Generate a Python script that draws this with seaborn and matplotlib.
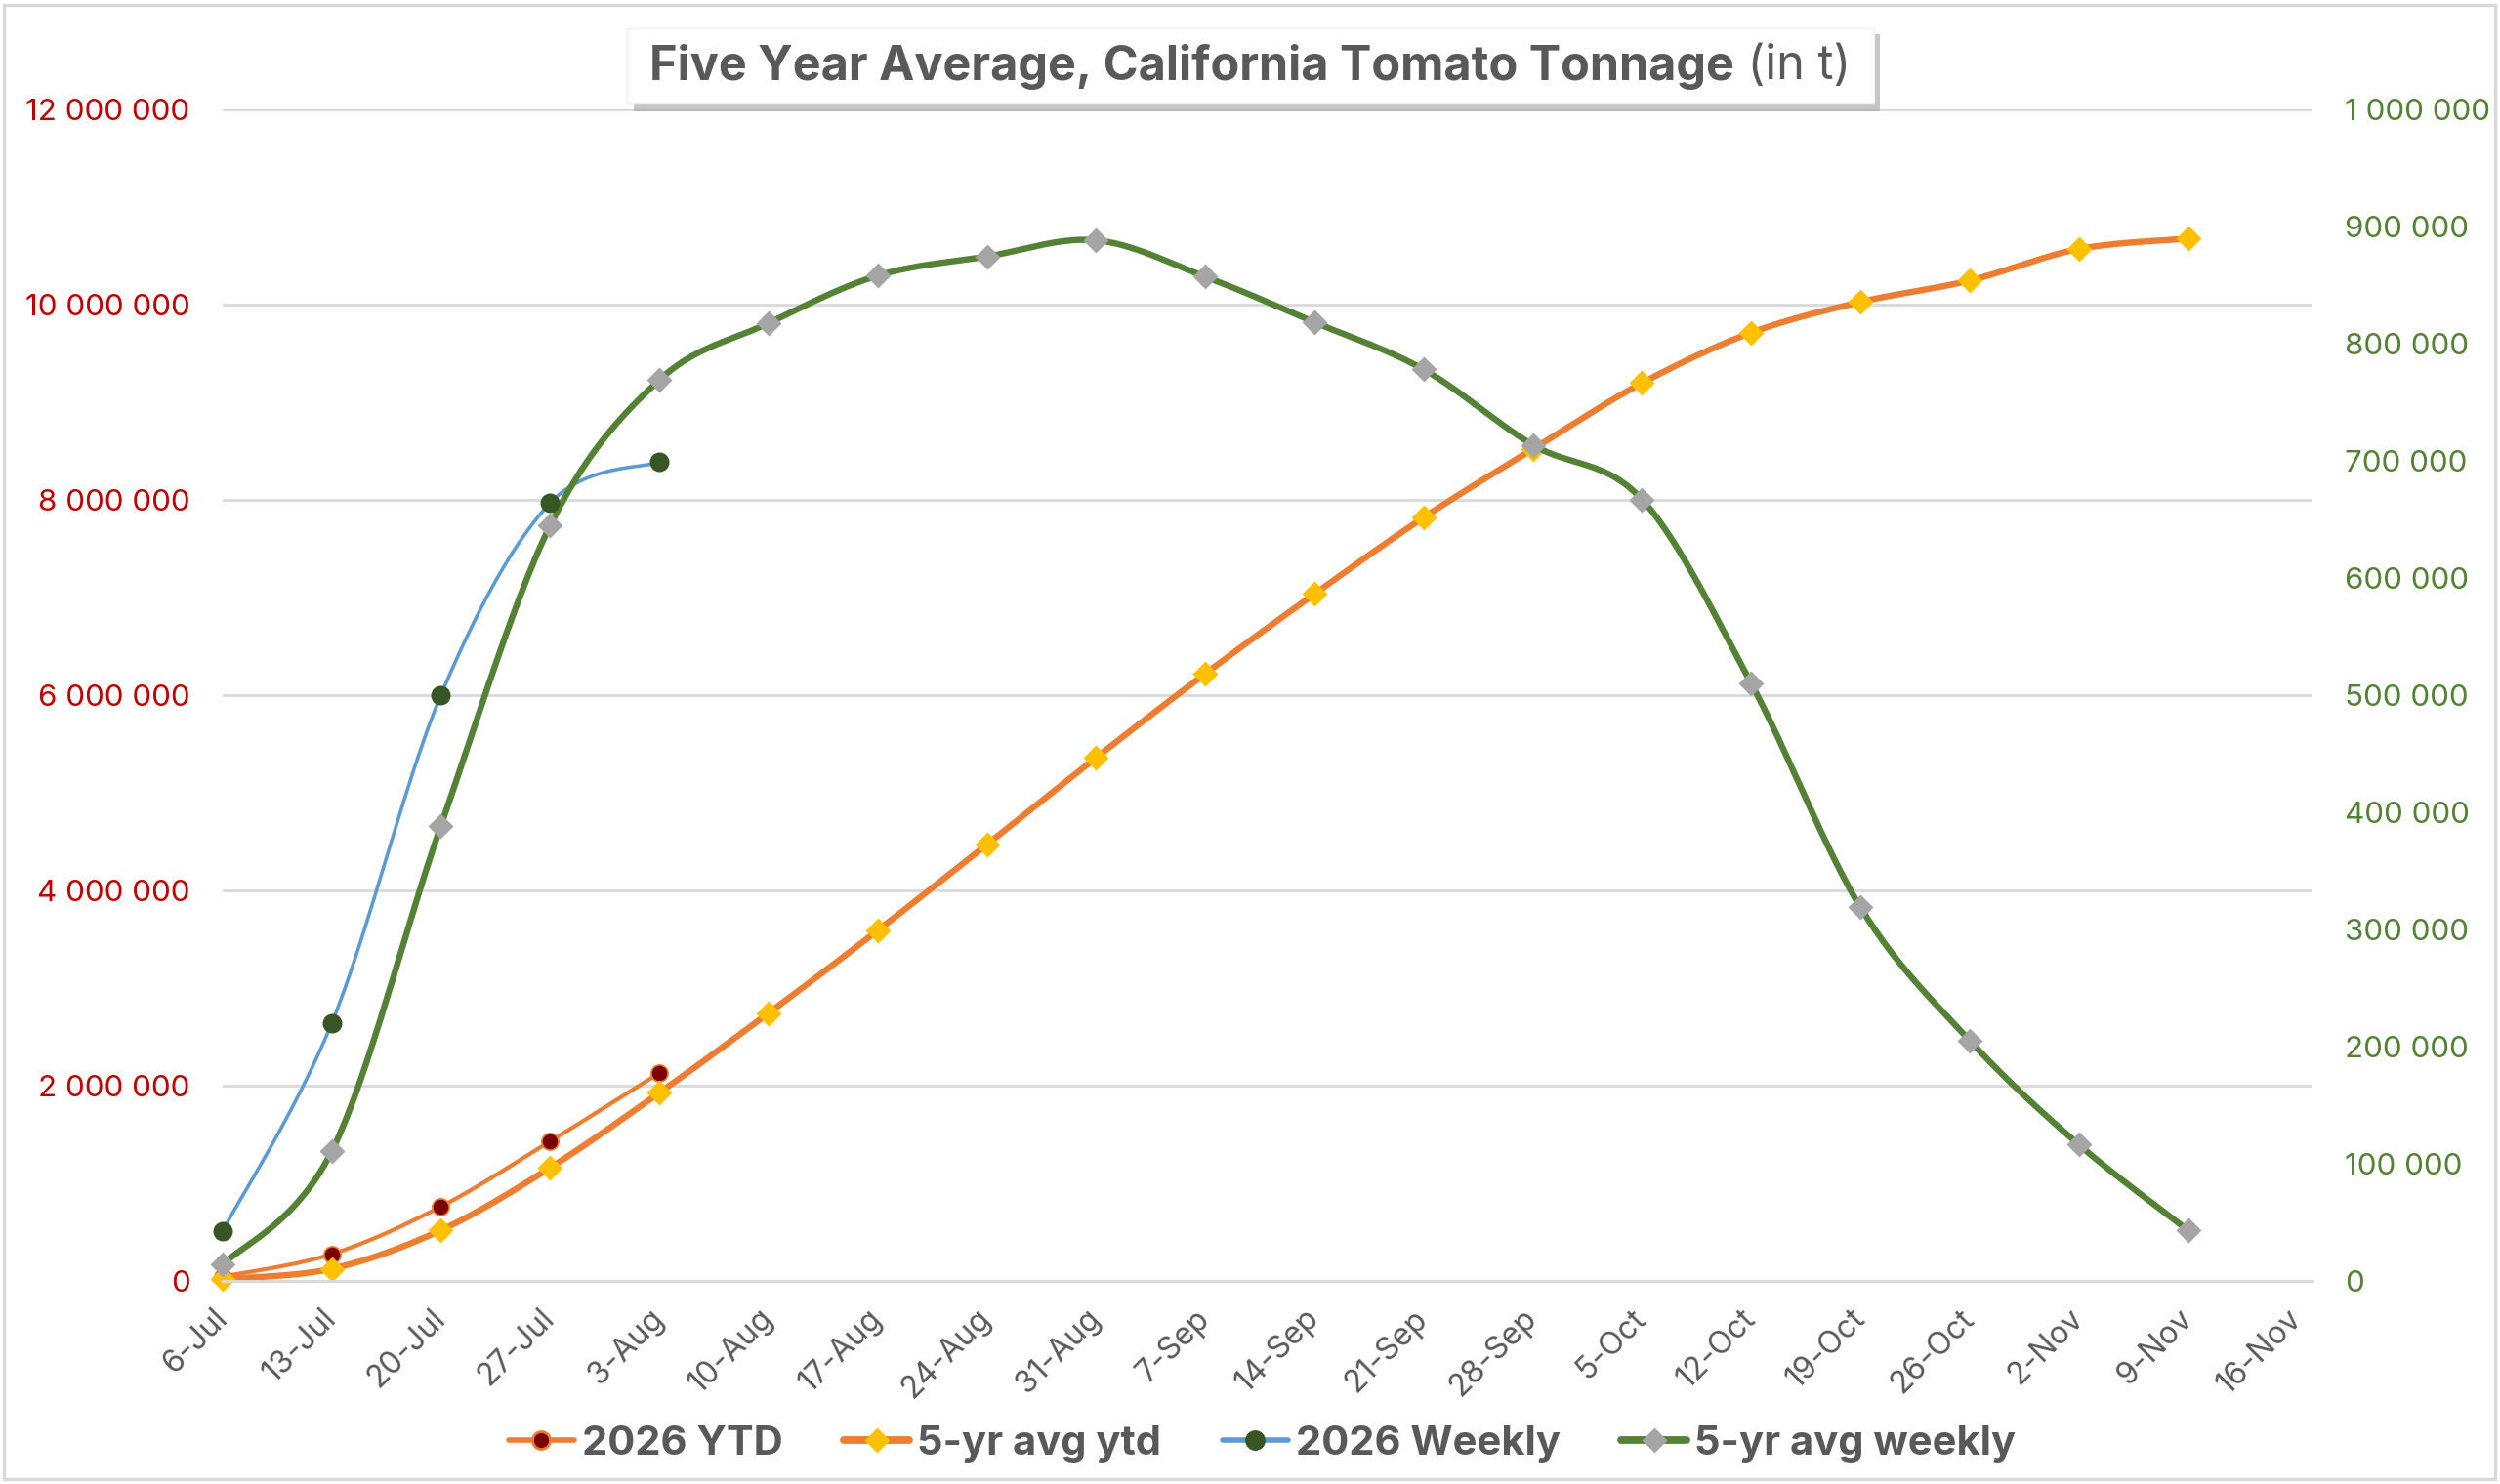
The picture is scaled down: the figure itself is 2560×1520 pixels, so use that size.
import numpy as np
import matplotlib
matplotlib.use("Agg")
import matplotlib.pyplot as plt
import seaborn as sns
from matplotlib.lines import Line2D
from matplotlib.patches import Rectangle
from matplotlib.ticker import FuncFormatter, MultipleLocator

# semanas (eixo x)
weeks = ["6-Jul", "13-Jul", "20-Jul", "27-Jul", "3-Aug", "10-Aug", "17-Aug", "24-Aug",
         "31-Aug", "7-Sep", "14-Sep", "21-Sep", "28-Sep", "5-Oct", "12-Oct", "19-Oct",
         "26-Oct", "2-Nov", "9-Nov", "16-Nov"]

# eixo esquerdo (acumulado)
ytd_2026 = [45_000, 275_000, 762_000, 1_430_000, 2_130_000]
avg_ytd = [20_000, 125_000, 520_000, 1_160_000, 1_927_000, 2_743_000, 3_590_000, 4_470_000,
           5_360_000, 6_220_000, 7_037_000, 7_820_000, 8_520_000, 9_197_000, 9_713_000,
           10_027_000, 10_247_000, 10_570_000, 10_677_000]

# eixo direito (semanal)
weekly_2026 = [42_500, 220_000, 500_000, 664_000, 699_000]
avg_weekly = [13_900, 110_600, 388_600, 644_700, 769_000, 817_500, 858_100, 874_400, 888_300,
              857_200, 818_300, 778_000, 713_600, 667_000, 510_000, 319_000, 205_300,
              116_400, 43_300]

GRAY_TXT = "#595959"
ORANGE = "#ED7D31"
BLUE = "#5B9BD5"
GREEN = "#548235"


def suavizar(y, n=30):
    # curva suavizada estilo Excel (bezier tipo catmull-rom) so para desenhar a linha
    y = np.asarray(y, dtype=float)
    x = np.arange(len(y), dtype=float)
    px = np.r_[x[0], x, x[-1]]
    py = np.r_[y[0], y, y[-1]]
    t = np.linspace(0, 1, n)
    xs, ys = [], []
    for i in range(len(y) - 1):
        p0 = np.array([px[i], py[i]])
        p1 = np.array([px[i + 1], py[i + 1]])
        p2 = np.array([px[i + 2], py[i + 2]])
        p3 = np.array([px[i + 3], py[i + 3]])
        c1 = p1 + (p2 - p0) / 6
        c2 = p2 - (p3 - p1) / 6
        b = ((1 - t) ** 3)[:, None] * p1 + (3 * (1 - t) ** 2 * t)[:, None] * c1 \
            + (3 * (1 - t) * t ** 2)[:, None] * c2 + (t ** 3)[:, None] * p2
        xs.extend(b[:, 0])
        ys.extend(b[:, 1])
    return np.array(xs), np.array(ys)


sns.set_style("white")
plt.rcParams['font.family'] = ['Inter', 'DejaVu Sans']

fig = plt.figure(figsize=(12.8, 7.6), dpi=200)
ax = fig.add_axes([0.089, 0.1368, 0.836, 0.7895])
ax2 = ax.twinx()

# eixo esquerdo
xs, ys = suavizar(ytd_2026)
sns.lineplot(x=xs, y=ys, ax=ax, color=ORANGE, lw=1.5, sort=False, estimator=None)
ax.plot(range(len(ytd_2026)), ytd_2026, ls="none", marker="o", ms=6.2,
        mfc="#7B0000", mec=ORANGE, mew=0.6, clip_on=False, zorder=5)
xs, ys = suavizar(avg_ytd)
sns.lineplot(x=xs, y=ys, ax=ax, color=ORANGE, lw=2.3, sort=False, estimator=None)
ax.plot(range(len(avg_ytd)), avg_ytd, ls="none", marker="D", ms=5.4,
        mfc="#FFC000", mec="#FFC000", clip_on=False, zorder=5)

# eixo direito
xs, ys = suavizar(weekly_2026)
sns.lineplot(x=xs, y=ys, ax=ax2, color=BLUE, lw=1.3, sort=False, estimator=None)
ax2.plot(range(len(weekly_2026)), weekly_2026, ls="none", marker="o", ms=6.2,
         mfc="#375623", mec="#375623", clip_on=False, zorder=5)
xs, ys = suavizar(avg_weekly)
sns.lineplot(x=xs, y=ys, ax=ax2, color=GREEN, lw=2.3, sort=False, estimator=None)
ax2.plot(range(len(avg_weekly)), avg_weekly, ls="none", marker="D", ms=5.4,
         mfc="#A5A5A5", mec="#A5A5A5", clip_on=False, zorder=5)

fmt = FuncFormatter(lambda v, p: f"{v:,.0f}".replace(",", " "))

ax.set_xlim(0, 19.14)
ax.set_ylim(0, 12_000_000)
ax2.set_ylim(0, 1_000_000)
ax.yaxis.set_major_locator(MultipleLocator(2_000_000))
ax2.yaxis.set_major_locator(MultipleLocator(100_000))
ax.yaxis.set_major_formatter(fmt)
ax2.yaxis.set_major_formatter(fmt)

ax.set_xticks(range(len(weeks)))
ax.set_xticklabels(weeks, rotation=45, ha="right", va="center", rotation_mode="anchor")
ax.tick_params(axis="x", direction="out", length=3.2, width=0.8, color="#BFBFBF",
               labelsize=11.5, labelcolor=GRAY_TXT, pad=9)
ax.tick_params(axis="y", length=0, pad=12, labelsize=11.3, labelcolor="#C00000")
ax2.tick_params(axis="y", length=0, pad=12, labelsize=11.3, labelcolor=GREEN)

ax.yaxis.grid(True, color="#D9D9D9", lw=1.0)
ax.set_axisbelow(True)
for a in (ax, ax2):
    for s in ("left", "right", "top"):
        a.spines[s].set_visible(False)
    a.spines["bottom"].set_color("#D9D9D9")
    a.spines["bottom"].set_linewidth(1.0)
    a.set_xlabel("")
    a.set_ylabel("")

# legenda
handles = [
    Line2D([0], [0], color=ORANGE, lw=2.0, marker="o", ms=6.5, mfc="#7B0000", mec=ORANGE),
    Line2D([0], [0], color=ORANGE, lw=2.8, marker="D", ms=5.5, mfc="#FFC000", mec="#FFC000"),
    Line2D([0], [0], color=BLUE, lw=2.0, marker="o", ms=6.5, mfc="#375623", mec="#375623"),
    Line2D([0], [0], color=GREEN, lw=2.8, marker="D", ms=5.5, mfc="#A5A5A5", mec="#A5A5A5"),
]
labels = ["2026 YTD", "5-yr avg ytd", "2026 Weekly", "5-yr avg weekly"]
fig.legend(handles, labels, loc="center", bbox_to_anchor=(0.505, 0.027), ncol=4,
           frameon=False, prop=dict(weight="bold", size=15), labelcolor=GRAY_TXT,
           handlelength=1.6, handletextpad=0.2, columnspacing=1.5)

# titulo com caixa e sombra
fig.patches.append(Rectangle((0.2535, 0.925), 0.4985, 0.052, transform=fig.transFigure,
                             facecolor="#9A9A9A", edgecolor="none", alpha=0.55, zorder=1))
fig.patches.append(Rectangle((0.2508, 0.930), 0.4988, 0.051, transform=fig.transFigure,
                             facecolor="white", edgecolor="#F0F0F0", lw=0.5, zorder=2))
t1 = fig.text(0, 0.955, "Five Year Average, California Tomato Tonnage", weight="bold",
              size=17.5, color=GRAY_TXT, va="center", ha="left", zorder=3)
t2 = fig.text(0, 0.955, " (in t)", size=17.5, color=GRAY_TXT, va="center", ha="left", zorder=3)
fig.canvas.draw()
r = fig.canvas.get_renderer()
w1 = t1.get_window_extent(r).width
w2 = t2.get_window_extent(r).width
W = fig.bbox.width
start = (W - (w1 + w2)) / 2
t1.set_x(start / W)
t2.set_x((start + w1) / W)

# borda da figura
fig.patches.append(Rectangle((0.0015, 0.003), 0.9965, 0.9935, transform=fig.transFigure,
                             fill=False, edgecolor="#D9D9D9", lw=1.2))

fig.savefig("out.png", dpi=200)
plt.close(fig)
